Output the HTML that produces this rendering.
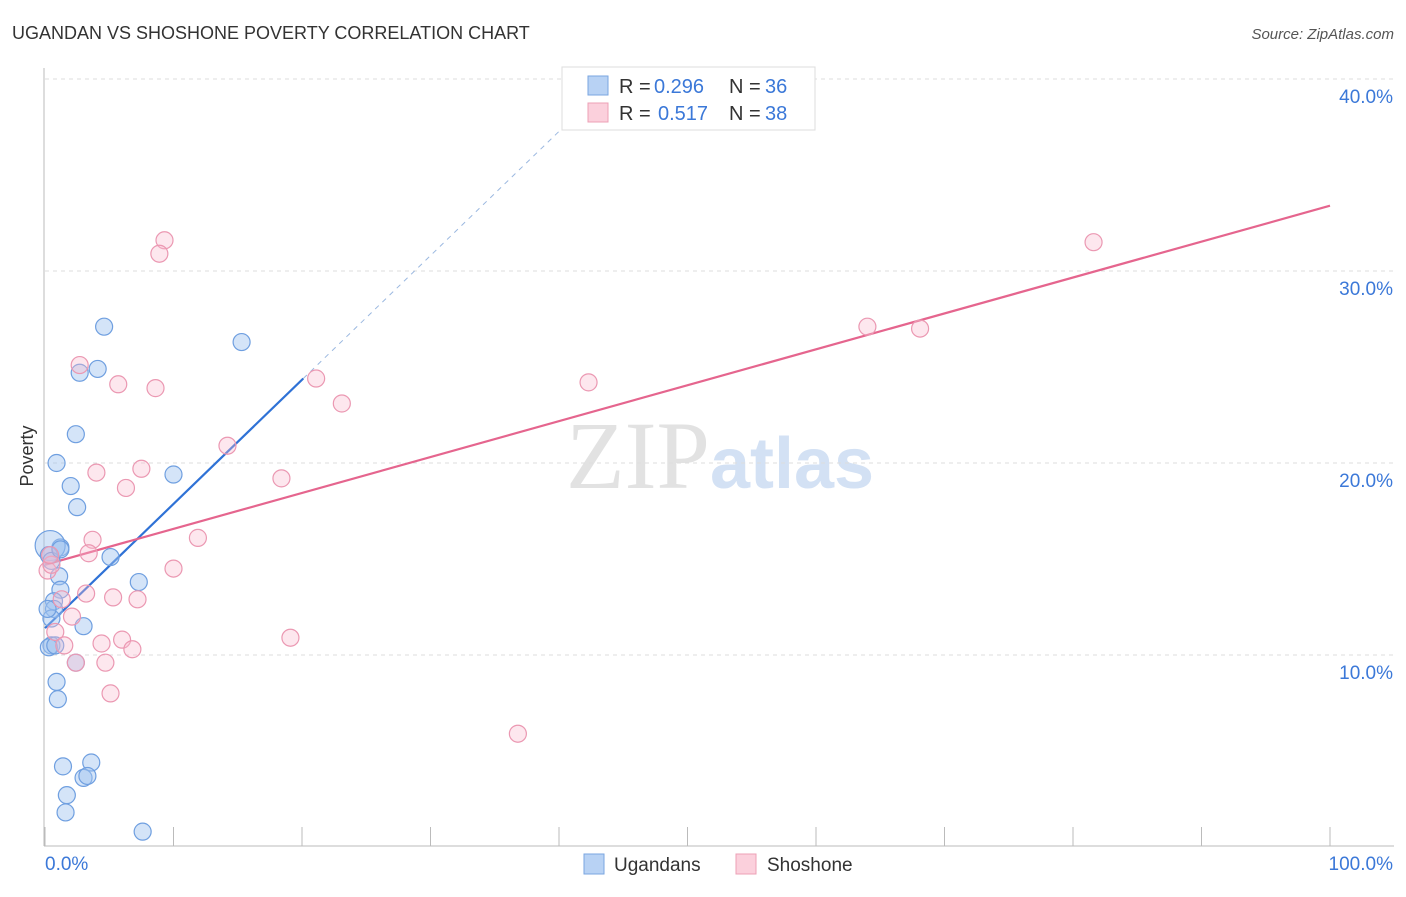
<!DOCTYPE html>
<html><head><meta charset="utf-8"><style>
body{margin:0;background:#fff;font-family:"Liberation Sans",sans-serif;}
svg text{font-family:"Liberation Sans",sans-serif;}
</style></head><body>
<svg id="chart" width="1406" height="892" xmlns="http://www.w3.org/2000/svg">
<text x="12" y="39" font-size="18" fill="#333">UGANDAN VS SHOSHONE POVERTY CORRELATION CHART</text>
<text x="1394" y="39" font-size="15" fill="#555" text-anchor="end" font-style="italic">Source: ZipAtlas.com</text>
<text x="720" y="488" font-size="96" text-anchor="middle"><tspan fill="#e2e2e2" font-family="Liberation Serif">ZIP</tspan><tspan fill="#d3e1f4" font-weight="bold" font-size="72">atlas</tspan></text>
<text transform="translate(33,456) rotate(-90)" font-size="18" fill="#333" text-anchor="middle">Poverty</text>
<g id="grid"></g><g id="axes"></g><g id="lines"></g><g id="points"></g>
<g font-size="20">
<rect x="562" y="67" width="253" height="63" fill="#fff" stroke="#ddd"/>
<rect x="588" y="76" width="20" height="19" fill="#b8d2f4" stroke="#7aa6e0"/>
<text x="619" y="93" fill="#333">R =</text><text x="654" y="93" fill="#3b78d8">0.296</text>
<text x="729" y="93" fill="#333">N =</text><text x="765" y="93" fill="#3b78d8">36</text>
<rect x="588" y="103" width="20" height="19" fill="#fbd0dc" stroke="#eda0b6"/>
<text x="619" y="120" fill="#333">R =</text><text x="658" y="120" fill="#3b78d8">0.517</text>
<text x="729" y="120" fill="#333">N =</text><text x="765" y="120" fill="#3b78d8">38</text>
</g>
<g>
<rect x="584" y="854" width="20" height="20" fill="#b8d2f4" stroke="#7aa6e0"/>
<text x="614" y="871" font-size="19" fill="#333">Ugandans</text>
<rect x="736" y="854" width="20" height="20" fill="#fbd0dc" stroke="#eda0b6"/>
<text x="767" y="871" font-size="19" fill="#333">Shoshone</text>
</g>
</svg>
<script>
const blueX=[4.6,4.1,2.7,15.3,2.4,0.9,2.0,10.0,2.5,1.2,5.1,0.4,1.1,1.2,0.7,0.7,0.5,3.0,7.3,0.5,0.3,2.4,0.9,1.0,1.4,3.6,3.0,3.3,1.7,1.6,7.6,0.3,0.5,0.2,0.8,1.2];
const blueY=[27.1,24.9,24.7,26.3,21.5,20.0,18.8,19.4,17.7,15.6,15.1,15.7,14.1,13.4,12.8,12.4,11.9,11.5,13.8,10.5,10.4,9.6,8.6,7.7,4.2,4.4,3.6,3.7,2.7,1.8,0.8,15.2,14.9,12.4,10.5,15.5];
const pinkX=[9.3,8.9,2.7,5.7,8.6,21.1,23.1,14.2,4.0,7.5,6.3,18.4,11.9,3.7,3.4,10.0,0.2,0.5,3.2,5.3,7.2,1.3,2.1,0.8,6.0,4.4,6.8,1.5,2.4,4.7,5.1,19.1,36.8,42.3,64.0,68.1,81.6,0.4];
const pinkY=[31.6,30.9,25.1,24.1,23.9,24.4,23.1,20.9,19.5,19.7,18.7,19.2,16.1,16.0,15.3,14.5,14.4,14.7,13.2,13.0,12.9,12.9,12.0,11.2,10.8,10.6,10.3,10.5,9.6,9.6,8.0,10.9,5.9,24.2,27.1,27.0,31.5,15.2];
const blueLine=[11.4,24.4];   // y at x=0 and x=20.1
const pinkLine=[14.7,33.4];   // y at x=0 and x=100
const yTicks=[10,20,30,40];
const yTickLabels=["10.0%","20.0%","30.0%","40.0%"];
const xTicks=[0,10,20,30,40,50,60,70,80,90,100];
const NS="http://www.w3.org/2000/svg";
const sx=v=>45+v*12.85, sy=v=>847-v*19.2;
function mk(t,a,p){const e=document.createElementNS(NS,t);for(const k in a)e.setAttribute(k,a[k]);p.appendChild(e);return e;}
const grid=document.getElementById('grid'),axes=document.getElementById('axes');
yTicks.forEach((t,i)=>{
 const l=mk('line',{x1:45,x2:1394,y1:sy(t),y2:sy(t),stroke:'#ddd','stroke-dasharray':'4,4'},grid);
 
 
 const tx=mk('text',{x:1393,y:sy(t)+24,'font-size':19,fill:'#3b78d8','text-anchor':'end'},axes);
 tx.textContent=yTickLabels[i];
 
 
});
const ya=mk('line',{x1:44,x2:44,y1:68,y2:846,stroke:'#bbb'},axes);


const xa=mk('line',{x1:44,x2:1394,y1:846,y2:846,stroke:'#bbb'},axes);


xTicks.forEach(t=>{const l=mk('line',{x1:sx(t),x2:sx(t),y1:827,y2:846,stroke:'#bbb'},axes);
 
 });
const x0=mk('text',{x:45,y:870,'font-size':19,fill:'#3b78d8'},axes);x0.textContent='0.0%';


const x1=mk('text',{x:1393,y:870,'font-size':19,fill:'#3b78d8','text-anchor':'end'},axes);x1.textContent='100.0%';


const pts=document.getElementById('points');
blueX.forEach((x,i)=>{const c=mk('circle',{cx:sx(x),cy:sy(blueY[i]),r:i==11?15:8.5,fill:'rgba(160,196,240,0.45)',stroke:'#6f9fe0','stroke-width':1.2},pts);
 
 });
pinkX.forEach((x,i)=>{const c=mk('circle',{cx:sx(x),cy:sy(pinkY[i]),r:8.5,fill:'rgba(248,185,205,0.35)',stroke:'#eb98b2','stroke-width':1.2},pts);
 
 });
const lines=document.getElementById('lines');
const slope=(blueLine[1]-blueLine[0])/20.1;
const d=mk('line',{x1:sx(20.1),y1:sy(blueLine[1]),x2:sx(40.5),y2:sy(blueLine[0]+slope*40.5),stroke:'#9bb8e0','stroke-dasharray':'5,5','stroke-width':1},lines);


const b=mk('line',{x1:sx(0),y1:sy(blueLine[0]),x2:sx(20.1),y2:sy(blueLine[1]),stroke:'#2f72d6','stroke-width':2.2},lines);


const p=mk('line',{x1:sx(0),y1:sy(pinkLine[0]),x2:sx(100),y2:sy(pinkLine[1]),stroke:'#e5658e','stroke-width':2.2},lines);


</script>
</body></html>
